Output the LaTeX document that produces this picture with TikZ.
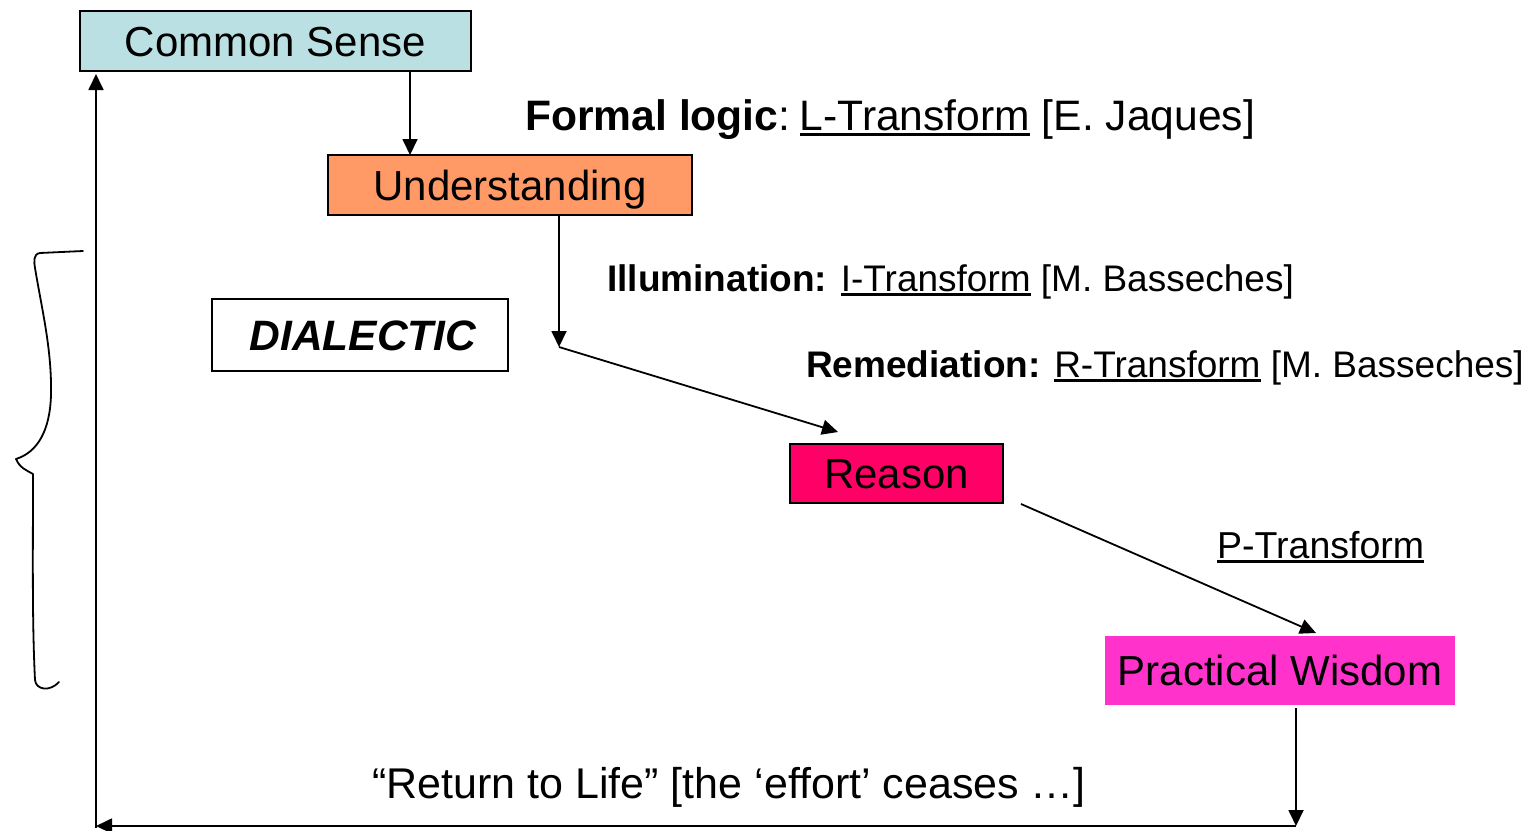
\documentclass[tikz,border=0pt]{standalone}
\usepackage{fontspec}
\setmainfont{Liberation Sans}
\usetikzlibrary{arrows.meta,calc}

% underline drawn as a rule of its own, thicker than \underline
\newsavebox\ulbox
\newcommand\ulin[1]{\sbox\ulbox{#1}\rlap{\rule[-0.13em]{\wd\ulbox}{0.065em}}\usebox\ulbox}

\definecolor{csfill}{RGB}{186,224,227}
\definecolor{undfill}{RGB}{255,153,102}
\definecolor{reafill}{RGB}{255,0,102}
\definecolor{pwfill}{RGB}{255,51,204}

\begin{document}
\begin{tikzpicture}[x=1pt,y=-1pt,
  box/.style={draw=black, line width=1.8pt, inner sep=0pt, outer sep=0pt,
    anchor=north west, text height=30pt, text depth=0pt,
    font=\fontsize{42}{50}\selectfont},
  lblbig/.style={inner sep=0pt, anchor=base west, font=\fontsize{42.6}{50}\selectfont},
  lblsmall/.style={inner sep=0pt, anchor=base west, font=\fontsize{37}{44}\selectfont},
  arr/.style={line width=1.8pt, -{Triangle[length=16pt,width=15pt]}},
  brace/.style={line width=1.8pt, line cap=round, line join=round}]

\useasboundingbox (0,0) rectangle (1530,830);

% stages
\node[box, fill=csfill, minimum width=391pt, minimum height=60pt] (cs) at (80,11) {Common Sense};
\node[box, fill=undfill, minimum width=364pt, minimum height=60pt] (und) at (328,155) {Understanding};
\node[box, fill=white, minimum width=296pt, minimum height=72pt, font=\fontsize{42.5}{50}\selectfont] (dial) at (212,299) {\hspace*{6pt}\bfseries\itshape DIALECTIC};
\node[box, fill=reafill, minimum width=213pt, minimum height=59pt] (rea) at (790,444) {Reason};
\node[box, draw=none, fill=pwfill, minimum width=350pt, minimum height=69pt] (pw) at (1105,636) {Practical Wisdom};

% transform labels
\node[lblbig] (fl) at (525,130) {\textbf{Formal logic}:\hspace{0.22em}\ulin{L-Transform} [E. Jaques]};
\node[lblsmall] (il) at (607,291) {\textbf{Illumination:} \ulin{I-Transform} [M. Basseches]};
\node[lblsmall] (rm) at (806,377) {\textbf{Remediation:} \ulin{R-Transform} [M. Basseches]};
\node[lblsmall, font=\fontsize{37.5}{44}\selectfont] (pt) at (1217,558) {\ulin{P-Transform}};
\node[lblbig, font=\fontsize{43}{50}\selectfont] (rl) at (372,798) {“Return to Life” [the ‘effort’ ceases …]};

% path points
\coordinate (bend) at (559,347);
\coordinate (corner) at (1296,826);
\coordinate (ret) at (96,826);

% connectors
\draw[arr] ($(cs.south west)+(330,0)$) -- ($(und.north west)+(82,0)$);
\draw[arr] ($(und.south west)+(231,0)$) -- (bend);
\draw[arr] (bend) -- ($(rea.north west)+(48,-12)$);
\draw[arr] ($(rea.south east)+(18,1)$) -- ($(pw.north west)+(211,-3)$);
\draw[arr] ($(pw.south west)+(191,3)$) -- (corner);
\draw[arr] (corner) -- (ret);
\draw[arr] ($(ret)+(0,2)$) -- ($(cs.south west)+(16,3)$);

% hand-drawn brace around the dialectic stages
\draw[brace] (83,251) -- (40,253)
  .. controls (33,254) and (34,262) .. (35,268)
  .. controls (42,310) and (52,350) .. (51,395)
  .. controls (50,430) and (38,452) .. (16,459)
  .. controls (20,468) and (26,470) .. (33,474)
  .. controls (33,550) and (32,620) .. (35,680)
  .. controls (36,690) and (50,692) .. (59,682);

\end{tikzpicture}
\end{document}
